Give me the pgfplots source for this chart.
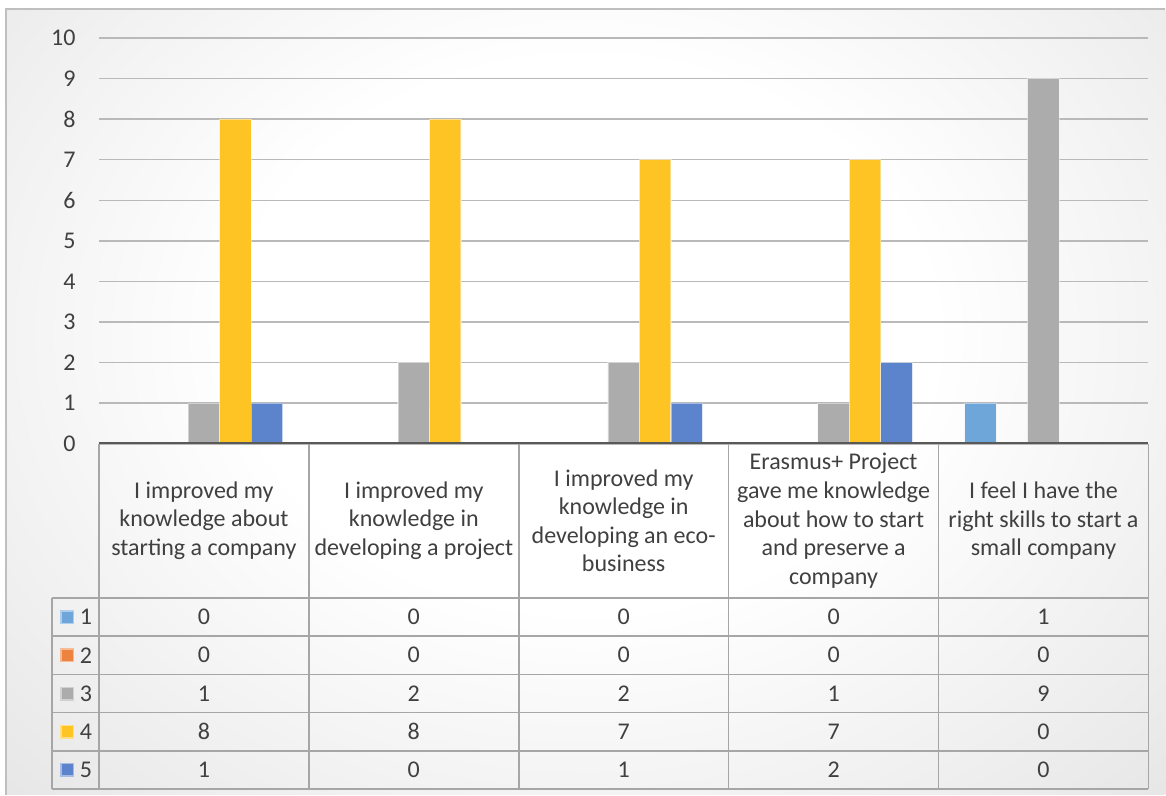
\documentclass[border=0pt]{standalone}
\usepackage{pgfplots}
\pgfplotsset{compat=1.18}
\usepackage{fontspec}
\setmainfont{Carlito}
\definecolor{s1}{RGB}{110,166,218}
\definecolor{s2}{RGB}{236,132,64}
\definecolor{s3}{RGB}{172,172,172}
\definecolor{s4}{RGB}{253,196,36}
\definecolor{s5}{RGB}{91,132,204}
\definecolor{txt}{RGB}{64,64,64}
\definecolor{gridc}{RGB}{185,185,185}
\definecolor{tbl}{RGB}{166,166,166}
\definecolor{bgout}{RGB}{188,188,188}
\pgfdeclareradialshading{bgshade}{\pgfpoint{0bp}{0bp}}{color(0bp)=(white); color(15bp)=(white); color(71bp)=(bgout)}
\begin{document}
\begin{tikzpicture}
\begin{scope}[x=0.5pt,y=-0.5pt]
\fill[white] (0,0) rectangle (1166,795);
\begin{scope}
\clip (6,9) rectangle (1166,795);
\shade[shading=bgshade] (6,-125) rectangle (1166,795);
\end{scope}
\draw[black!25, line width=0.6pt] (6,795) -- (6,9) -- (1166,9);
\end{scope}
\begin{axis}[at={(49.5pt,-222pt)}, anchor=south west, scale only axis,
  width=525pt, height=203pt, xmin=0.5, xmax=5.5, ymin=0, ymax=10,
  axis line style={draw=none}, xtick=\empty, ytick={0,1,...,10},
  major tick length=0pt, ymajorgrids, grid style={gridc, line width=0.75pt},
  /pgf/number format/assume math mode=true,
  yticklabel style={font=\fontsize{12}{14}\selectfont, text=txt, anchor=east, inner sep=0pt, xshift=-11.5pt},
  every axis plot/.append style={ybar, bar width=0.15, draw=white, draw opacity=0.45, line width=0.6pt},
  clip=false]
\addplot[bar shift=-0.3, fill=s1] coordinates {(1,0) (2,0) (3,0) (4,0) (5,1)};
\addplot[bar shift=-0.15, fill=s2] coordinates {(1,0) (2,0) (3,0) (4,0) (5,0)};
\addplot[bar shift=0, fill=s3] coordinates {(1,1) (2,2) (3,2) (4,1) (5,9)};
\addplot[bar shift=0.15, fill=s4] coordinates {(1,8) (2,8) (3,7) (4,7) (5,0)};
\addplot[bar shift=0.3, fill=s5] coordinates {(1,1) (2,0) (3,1) (4,2) (5,0)};
\end{axis}
\begin{scope}[x=0.5pt,y=-0.5pt]
% table grid
\foreach \yy in {598.3,636.5,674.8,713,751.2,789.4} {\draw[tbl, line width=0.8pt] (52,\yy) -- (1149,\yy);}
\foreach \xx in {99,309,519,729,939,1149} {\draw[tbl, line width=0.8pt] (\xx,444) -- (\xx,789.4);}
\draw[tbl, line width=0.8pt] (52,598.3) -- (52,789.4);
\draw[black!65, line width=1pt] (99,443.5) -- (1149,443.5);
% headers
\tikzset{hdr/.style={align=center, text=txt, font=\fontsize{12}{14.3}\selectfont, inner sep=0pt}}
\node[hdr] at (204,521) {I improved my\\knowledge about\\starting a company};
\node[hdr] at (414,521) {I improved my\\knowledge in\\developing a project};
\node[hdr] at (624,521) {I improved my\\knowledge in\\developing an eco-\\business};
\node[hdr] at (834,521) {Erasmus+ Project\\gave me knowledge\\about how to start\\and preserve a\\company};
\node[hdr] at (1044,521) {I feel I have the\\right skills to start a\\small company};
% values
\tikzset{val/.style={text=txt, font=\fontsize{12}{14}\selectfont, inner sep=0pt}}
\foreach \v [count=\i] in {0,0,0,0,1} {\node[val] at (204+210*\i-210,617.4) {\v};}
\foreach \v [count=\i] in {0,0,0,0,0} {\node[val] at (204+210*\i-210,655.6) {\v};}
\foreach \v [count=\i] in {1,2,2,1,9} {\node[val] at (204+210*\i-210,693.9) {\v};}
\foreach \v [count=\i] in {8,8,7,7,0} {\node[val] at (204+210*\i-210,732.1) {\v};}
\foreach \v [count=\i] in {1,0,1,2,0} {\node[val] at (204+210*\i-210,770.3) {\v};}
% legend keys
\foreach \c/\n/\yy in {s1/1/617.4, s2/2/655.6, s3/3/693.9, s4/4/732.1, s5/5/770.3} {
  \fill[\c!55!white] (60.5,\yy-7) rectangle (74.5,\yy+7);
  \fill[\c] (62,\yy-5.5) rectangle (73,\yy+5.5);
  \node[val] at (86,\yy) {\n};
}
\end{scope}
\end{tikzpicture}
\end{document}
